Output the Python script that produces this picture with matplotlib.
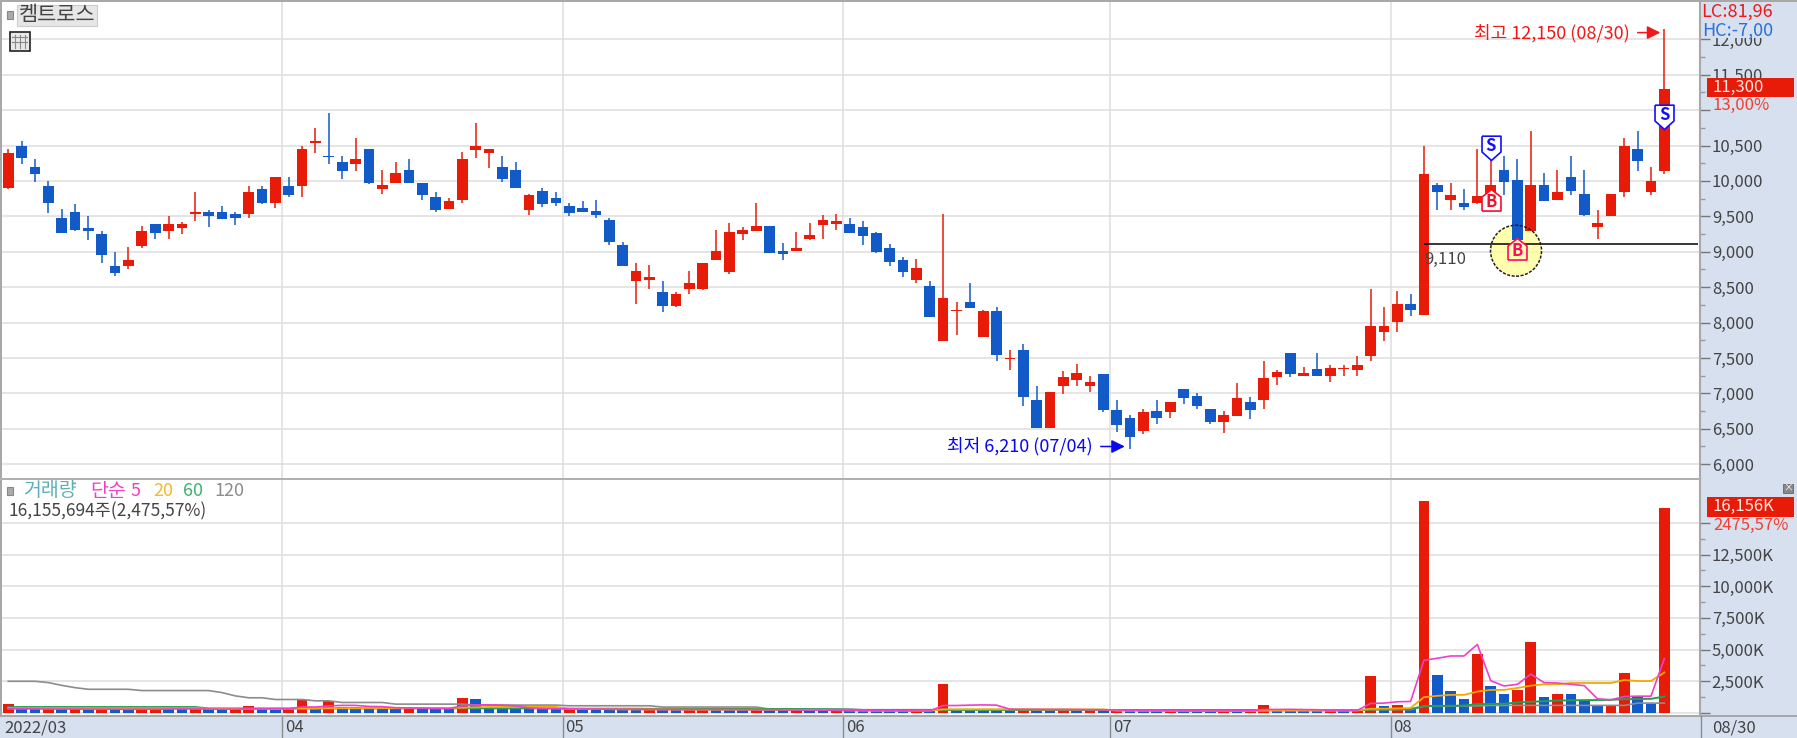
import matplotlib
matplotlib.use("Agg")
import matplotlib.pyplot as plt
from matplotlib.patches import Rectangle, Circle
from matplotlib.transforms import IdentityTransform

plt.rcParams['font.family'] = ['Noto Sans CJK KR', 'DejaVu Sans']

# candle values
opens = [9900,10490,10200,9925,9475,9560,9330,9245,8795,8795,
         9075,9390,9290,9335,9530,9560,9560,9540,9540,9880,
         9695,9925,9925,10540,10350,10265,10240,10450,9880,9965,
         10155,9965,9775,9610,9730,10435,10390,10200,10155,9590,
         9860,9755,9645,9625,9580,9455,9095,8585,8605,8430,
         8240,8480,8480,8880,8710,9245,9290,9370,9005,9010,
         9180,9375,9395,9390,9345,9263,9047,8878,8605,8516,
         7736,8159,8286,7801,8159,7482,7609,6909,6510,7106,
         7190,7106,7270,6760,6652,6469,6756,6741,7056,6967,
         6779,6591,6680,6882,6911,7226,7564,7244,7348,7244,
         7338,7329,7522,7865,8010,8260,8110,9940,9735,9693,
         9688,9800,10155,10010,9297,9943,9736,10052,9816,9353,
         9504,9840,10453,9844,10137]
closes = [10400,10330,10100,9695,9270,9305,9300,8950,8700,8880,
          9290,9270,9390,9390,9560,9500,9460,9480,9840,9695,
          10050,9800,10450,10560,10335,10135,10305,9965,9945,10115,
          9965,9800,9585,9710,10305,10495,10450,10033,9905,9795,
          9675,9690,9545,9565,9520,9135,8795,8730,8645,8240,
          8410,8560,8835,9005,9285,9305,9370,8985,8975,9050,
          9240,9455,9430,9265,9225,9000,8860,8709,8770,8079,
          8347,8182,8206,8159,7543,7501,6955,6510,7016,7228,
          7289,7162,6763,6553,6384,6737,6652,6882,6930,6826,
          6591,6690,6930,6760,7221,7306,7268,7287,7244,7352,
          7352,7395,7945,7945,8260,8180,10100,9850,9800,9627,
          9792,9943,9986,9165,9943,9722,9840,9863,9523,9410,
          9816,10496,10288,10005,11300]
highs = [10450,10560,10310,10000,9600,9670,9500,9290,8990,9070,
         9370,9390,9500,9415,9840,9585,9645,9560,9925,9925,
         10050,10050,10490,10750,10960,10350,10600,10450,10155,10265,
         10305,9965,9840,9755,10410,10815,10450,10350,10265,9815,
         9900,9840,9690,9710,9730,9480,9135,8835,8815,8585,
         8430,8730,8835,9305,9410,9345,9690,9370,9130,9285,
         9410,9515,9540,9475,9430,9277,9108,8920,8897,8582,
         9530,8286,8558,8178,8220,7609,7693,7100,7016,7313,
         7416,7247,7270,6906,6695,6779,6906,6882,7056,7009,
         6779,6756,7141,6948,7456,7324,7564,7371,7564,7395,
         7395,7522,8480,8217,8440,8400,10500,9967,9967,9882,
         10458,10293,10350,10307,10708,10113,10155,10350,10155,9585,
         9816,10608,10708,10198,12150]
lows = [9880,10240,9990,9545,9270,9290,9165,8845,8655,8760,
        9055,9185,9185,9250,9440,9350,9460,9375,9480,9670,
        9625,9775,9775,10390,10245,10030,10135,9950,9815,9965,
        9965,9730,9560,9610,9690,10330,10180,9990,9905,9520,
        9630,9650,9500,9565,9480,9095,8795,8265,8480,8150,
        8220,8410,8455,8880,8690,9160,9290,8985,8880,9010,
        9160,9180,9310,9265,9095,8980,8793,8648,8563,8079,
        7736,7820,8206,7801,7458,7336,6828,6510,6510,6998,
        7106,7017,6744,6450,6210,6427,6572,6657,6845,6784,
        6572,6445,6680,6638,6784,7118,7226,7244,7244,7160,
        7244,7244,7456,7738,7865,8095,8110,9585,9585,9585,
        9670,9800,9797,9165,9297,9722,9736,9797,9500,9183,
        9504,9778,10142,9802,10100]

volume = [680,320,300,340,290,310,280,320,300,260,
          300,350,330,280,330,300,260,280,520,300,
          270,310,1010,420,940,500,450,410,400,380,
          420,340,310,300,1150,1130,400,380,350,340,
          320,300,360,330,300,280,270,260,300,270,
          240,260,300,280,260,240,250,230,210,240,
          220,200,230,210,190,180,160,140,170,150,
          2260,330,300,290,270,260,300,280,260,300,
          240,270,220,260,230,180,160,190,170,150,
          130,180,170,200,620,280,240,180,160,190,
          150,170,2890,520,650,310,16740,3016,1716,1144,
          4654,2158,1482,1846,5590,1248,1482,1480,962,600,
          610,3120,1248,728,16156]

vol_ma5 = [330,330,320,310,310,310,300,300,300,290,
           300,300,310,320,320,310,300,300,330,330,
           330,330,480,470,560,600,600,520,500,420,
           400,380,360,350,570,640,640,620,560,400,
           360,340,330,320,310,300,290,280,280,270,
           270,260,270,270,270,260,250,250,240,230,
           220,220,220,210,210,190,180,170,160,160,
           590,590,620,640,620,300,290,290,280,280,
           270,260,250,240,220,200,190,180,170,170,
           160,170,170,180,280,280,290,270,260,210,
           200,200,754,780,884,910,4160,4316,4498,4498,
           5408,2548,2132,2262,3068,2392,2366,2262,2158,1118,
           1040,1300,1326,1326,4290]
vol_ma20 = [380,380,380,380,380,380,380,380,380,380,
            380,380,380,380,380,340,340,340,340,340,
            340,340,350,350,380,380,380,390,390,390,
            400,400,400,400,420,450,470,480,480,480,
            480,480,330,320,310,300,290,290,280,280,
            270,270,260,260,260,260,260,250,250,250,
            240,230,220,200,190,180,180,180,180,180,
            290,290,290,290,290,290,290,280,280,280,
            280,280,280,190,180,180,180,170,170,170,
            160,160,160,170,190,190,190,190,190,190,
            190,200,330,340,360,390,1248,1352,1430,1430,
            1690,1820,1820,1976,2158,2262,2262,2366,2366,2366,
            2366,2600,2522,2522,3198]
vol_ma60 = [470,470,470,470,470,470,470,470,470,470,
            470,470,470,470,470,360,360,360,360,360,
            360,360,360,360,360,360,360,360,360,360,
            370,370,370,370,370,370,370,370,370,370,
            370,370,340,340,340,340,340,340,330,330,
            320,320,320,320,320,320,310,310,310,310,
            300,290,280,250,240,240,240,240,240,240,
            250,250,250,250,250,250,250,250,250,250,
            250,250,250,230,230,230,220,220,220,220,
            220,220,220,220,220,220,220,220,220,220,
            220,220,280,290,300,310,546,560,572,585,
            702,715,728,832,884,930,988,1000,1014,1025,
            1040,1092,1105,1118,1300]
vol_ma120 = [2500,2500,2500,2400,2180,2000,1870,1870,1870,1870,
             1770,1770,1770,1770,1770,1770,1610,1350,1200,1200,
             1065,1065,1065,960,960,830,830,830,830,700,
             700,700,700,700,700,625,625,625,625,625,
             625,625,570,570,570,570,570,570,570,470,
             470,470,470,470,470,470,470,310,310,310,
             310,310,310,310,260,260,260,260,260,260,
             260,240,240,240,240,240,240,240,240,240,
             240,240,240,240,240,240,240,240,240,240,
             240,240,240,240,240,240,240,240,240,240,
             240,240,250,260,260,260,520,530,540,550,
             560,600,600,600,600,600,600,600,600,600,
             600,600,780,780,780]

month_pos = [20.5, 41.5, 62.5, 82.5, 103.5]
month_labels = ['04', '05', '06', '07', '08']
price_ticks = [6000,6500,7000,7500,8000,8500,9000,9500,10000,10500,11000,11500,12000]
price_labels = ['6,000','6,500','7,000','7,500','8,000','8,500','9,000','9,500','10,000','10,500','','11,500','12,000']
vol_ticks = [0,2500,5000,7500,10000,12500,15000]
vol_labels = ['','2,500K','5,000K','7,500K','10,000K','12,500K','']

RED = '#e81b08'
BLUE = '#125ac8'
PANEL = '#d6e0ee'
GRID = '#dedede'
W, H = 1797, 738

xs = list(range(len(opens)))

fig = plt.figure(figsize=(W / 100, H / 100), dpi=100, facecolor=PANEL)
ax = fig.add_axes([2 / W, 1 - 479 / H, 1698 / W, 477 / H])
vax = fig.add_axes([2 / W, 1 - 716 / H, 1698 / W, 237 / H])

for a in (ax, vax):
    a.set_facecolor('white')
    a.set_xlim(-0.47, 126.67)
    a.set_xticks(month_pos)
    a.grid(True, color=GRID, lw=1.1, zorder=0)
    a.set_axisbelow(True)
    a.yaxis.tick_right()
    a.tick_params(axis='y', which='major', length=7, width=1, color='#777777',
                  labelsize=12, labelcolor='#444444', pad=1.5)
    a.tick_params(axis='y', which='minor', length=3.5, width=1, color='#999999')
    for s in ('top', 'left', 'bottom'):
        a.spines[s].set_visible(False)
    a.spines['right'].set_color('#a8a8a8')
    a.spines['right'].set_linewidth(1.5)

# price panel
ax.set_ylim(5791, 12527)
ax.set_yticks(price_ticks)
ax.set_yticklabels(price_labels)
ax.set_yticks([t + 250 for t in price_ticks[:-1]], minor=True)
ax.tick_params(axis='x', length=0, labelbottom=False)

for i in xs:
    col = RED if closes[i] >= opens[i] else BLUE
    ax.vlines(i, lows[i], highs[i], color=col, lw=1.1, zorder=3)
    ax.bar(i, abs(closes[i] - opens[i]), bottom=min(opens[i], closes[i]),
           width=0.8, color=col, linewidth=0, zorder=4)

# yellow circle sits under the candles, its dashed rim and the support line on top
ax.add_patch(Circle((1516, H - 250.7), 25.5, transform=IdentityTransform(),
                    facecolor='#ffff99', alpha=0.8, edgecolor='none', zorder=2.5))
ax.add_patch(Circle((1516, H - 250.7), 25.5, transform=IdentityTransform(),
                    facecolor='none', edgecolor='#222222', lw=1.1, ls=(0, (2, 1)), zorder=7))
ax.hlines(9110, 106, 126.5, color='black', lw=1.1, zorder=5)
ax.text(106, 8890, '9,110', fontsize=12, color='#444444', ha='left', va='center', zorder=6)

# signal markers, tip of the shape sits on the price
sell_shape = [(-.39, 1), (.39, 1), (.39, .35), (0, 0), (-.39, .35), (-.39, 1)]
buy_shape = [(-.44, -1), (.44, -1), (.44, -.35), (0, 0), (-.44, -.35), (-.44, -1)]
for x, y in [(111, 10290), (124, 10730)]:
    ax.plot(x, y, marker=sell_shape, ms=35, mfc='white', mec='#1010ff', mew=1.2, zorder=8)
    ax.annotate('S', (x, y), xytext=(0, 10.6), textcoords='offset points', ha='center',
                va='center', color='#1010ff', fontsize=12, fontweight='bold', zorder=9)
for x, y, c, f in [(111, 9880, '#f01030', 'white'), (113, 9190, '#ff0a64', '#fdfdb0')]:
    ax.plot(x, y, marker=buy_shape, ms=31, mfc=f, mec=c, mew=1.2, zorder=8)
    ax.annotate('B', (x, y), xytext=(0, -9), textcoords='offset points', ha='center',
                va='center', color=c, fontsize=12, fontweight='bold', zorder=9)

# high / low notes
ax.annotate('', xy=(123.7, 12095), xytext=(122.0, 12095),
            arrowprops=dict(arrowstyle='-|>', color='#f01818', lw=1.1, mutation_scale=20, shrinkA=0, shrinkB=0), zorder=6)
ax.text(121.4, 12085, '최고 12,150 (08/30)', color='#f01818', fontsize=13, ha='right', va='center', zorder=6)
ax.annotate('', xy=(83.6, 6250), xytext=(81.8, 6250),
            arrowprops=dict(arrowstyle='-|>', color='#0808f0', lw=1.1, mutation_scale=20, shrinkA=0, shrinkB=0), zorder=6)
ax.text(81.2, 6255, '최저 6,210 (07/04)', color='#0808f0', fontsize=13, ha='right', va='center', zorder=6)

# volume panel
vax.set_ylim(-236, 18454)
vax.set_yticks(vol_ticks)
vax.set_yticklabels(vol_labels)
vax.set_yticks([t + 1250 for t in vol_ticks[:-1]], minor=True)

for i in xs:
    up = i == 0 or volume[i] >= volume[i - 1]
    vax.bar(i, volume[i], width=0.8, color=RED if up else BLUE, linewidth=0, zorder=3)
vax.plot(xs, vol_ma120, color='#8c8c8c', lw=1.2, zorder=4)
vax.plot(xs, vol_ma60, color='#22a050', lw=1.4, zorder=5)
vax.plot(xs, vol_ma20, color='#f5a800', lw=1.3, zorder=6)
vax.plot(xs, vol_ma5, color='#ee40c8', lw=1.2, zorder=7)

# date strip under the volume panel
vax.tick_params(axis='x', length=16, width=1, color='#8c8c8c', labelbottom=False)
xtr = vax.get_xaxis_transform()
vax.annotate('2022/03', (-0.47, 0), xycoords=xtr, xytext=(2, -8.5), textcoords='offset points',
             fontsize=12, color='#444444', va='center', annotation_clip=False)
for p, lbl in zip(month_pos, month_labels):
    vax.annotate(lbl, (p, 0), xycoords=xtr, xytext=(2, -8.5), textcoords='offset points',
                 fontsize=12, color='#444444', va='center', annotation_clip=False)
vax.annotate('08/30', (126.67, 0), xycoords=xtr, xytext=(9, -8.5), textcoords='offset points',
             fontsize=12, color='#444444', va='center', annotation_clip=False)

# window chrome, drawn in pixels
top = fig.add_axes([0, 0, 1, 1], facecolor='none')
top.set_xlim(0, W)
top.set_ylim(H, 0)
top.axis('off')
top.add_patch(Rectangle((0, 0), W, 2, color='#a8a8a8', lw=0))
top.add_patch(Rectangle((0, 0), 2, 716, color='#a8a8a8', lw=0))
top.add_patch(Rectangle((0, 478), 1700, 2, color='#b0b0b0', lw=0))
top.add_patch(Rectangle((0, 715), W, 2, color='#a8a8a8', lw=0))
top.plot([1700.5, 1700.5], [716, 738], color='#8c8c8c', lw=1)

# stock name box and table icon
top.add_patch(Rectangle((7, 11), 6, 8, facecolor='#aaaaaa', edgecolor='#888888', lw=0.8))
top.add_patch(Rectangle((17, 5), 80, 21, facecolor='#e6e6e6', edgecolor='#cccccc', lw=0.8))
top.text(57, 14.5, '켐트로스', fontsize=15, color='#444444', ha='center', va='center')
top.add_patch(Rectangle((9.5, 32), 20, 19, facecolor='#e8e8e8', edgecolor='#222222', lw=1.2))
for gx in (15, 20, 25):
    top.plot([gx, gx], [35, 48], color='#888888', lw=0.8)
for gy in (37, 42):
    top.plot([12, 27], [gy, gy], color='#888888', lw=0.8)

# right side value boxes, HC covers the top of the 12,000 label
top.text(1701, 12, 'LC:81,96', fontsize=13, color='#f01818', va='center')
top.add_patch(Rectangle((1702, 22), 90, 16, color=PANEL, lw=0))
top.text(1702, 31, 'HC:-7,00', fontsize=13, color='#2a6fe0', va='center')
top.add_patch(Rectangle((1707, 78), 87, 19, color=RED, lw=0))
top.text(1713, 87, '11,300', fontsize=12, color='#ffe8e0', va='center')
top.text(1713, 105, '13,00%', fontsize=12, color='#f04030', va='center')

top.add_patch(Rectangle((1707, 497), 87, 20, color=RED, lw=0))
top.text(1713, 506, '16,156K', fontsize=12, color='#ffe8e0', va='center')
top.text(1713, 525, '2475,57%', fontsize=12, color='#f04030', va='center')
top.add_patch(Rectangle((1783, 484), 10, 9, facecolor='#888888', edgecolor='#666666', lw=0.6))
top.text(1788, 488, '×', fontsize=7, color='white', ha='center', va='center')

# volume legend
top.add_patch(Rectangle((7, 487), 6, 8, facecolor='#aaaaaa', edgecolor='#888888', lw=0.8))
for tx, s, c, fs in [(23, '거래량', '#5fb0b5', 14), (90, '단순', '#ee40c8', 14), (131, '5', '#ee40c8', 13),
                     (153, '20', '#f5b82e', 13), (183, '60', '#3cb371', 13), (214, '120', '#8c8c8c', 13)]:
    top.text(tx, 491, s, fontsize=fs, color=c, va='center')
top.text(9, 511, '16,155,694주(2,475,57%)', fontsize=12.5, color='#444444', va='center')

fig.savefig('out.png', dpi=100, facecolor=fig.get_facecolor())
